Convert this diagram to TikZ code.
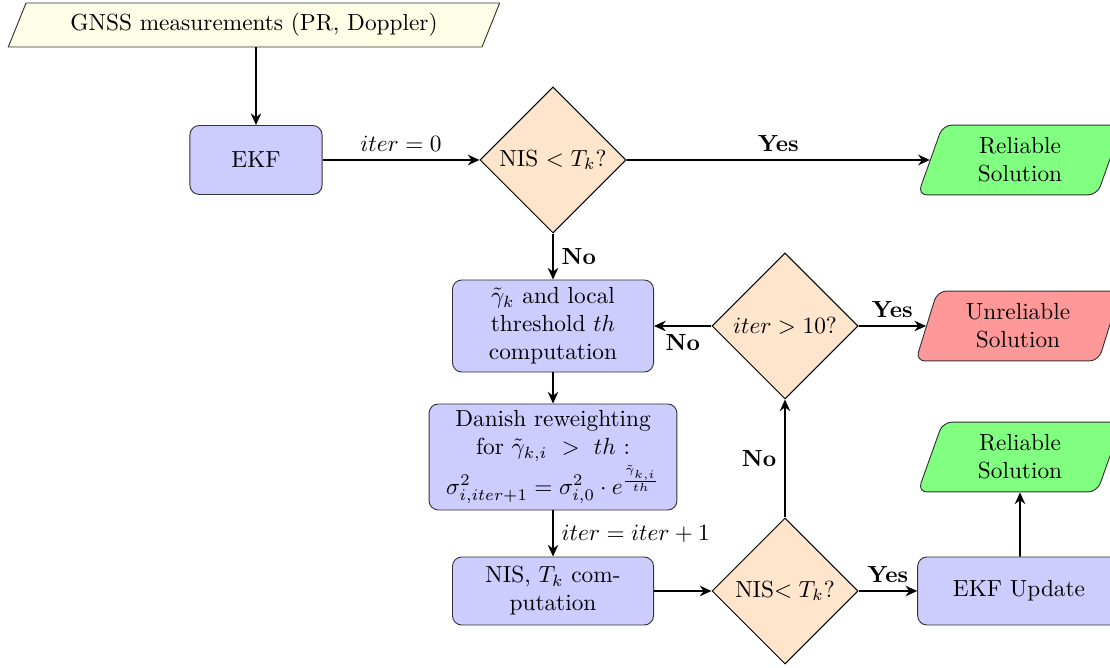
\documentclass[tikz,border=0pt]{standalone}
\usetikzlibrary{shapes.geometric,arrows.meta}
\begin{document}
\begin{tikzpicture}[x=0.4292pt,y=-0.4292pt,
  proc/.style={rectangle, rounded corners=4pt, draw=black!80, fill=blue!20, align=center, inner sep=2pt},
  dec/.style={diamond, draw=black, fill=orange!20, inner sep=0pt, minimum width=62.7pt, minimum height=62.7pt, align=center},
  io/.style={trapezium, trapezium left angle=75, trapezium right angle=105, trapezium stretches=true, draw=black!80, rounded corners=4pt, align=center, minimum width=88pt, minimum height=30pt},
  conn/.style={-{Stealth[length=5pt,width=4.5pt]}, thick}]
\useasboundingbox (0,0) rectangle (1110,668);
\clip (0,0) rectangle (1110,668);
\node[io, fill=yellow!10, rounded corners=0pt, trapezium left angle=69, trapezium right angle=111, minimum width=211pt, minimum height=18.9pt] (gnss) at (254,25) {GNSS measurements (PR, Doppler)};
\node[proc, minimum width=56.7pt, minimum height=29.6pt] (ekf) at (256,160) {EKF};
\node[dec] (d1) at (553,160) {NIS $<T_k$?};
\node[io, fill=green!50] (rel1) at (1020,160) {Reliable\\Solution};
\node[proc, minimum width=86.3pt, minimum height=39.5pt] (gam) at (553,326) {$\tilde{\gamma}_k$ and local\\threshold $th$\\computation};
\node[dec] (d2) at (785,326) {$iter>10$?};
\node[io, fill=red!40] (unrel) at (1018,326) {Unreliable\\Solution};
\node[proc, minimum width=106.4pt, minimum height=45.5pt] (dan) at (553,457) {Danish reweighting\\for $\tilde{\gamma}_{k,i}\ >\ th$ :\\[1pt]$\sigma^2_{i,iter+1}=\sigma^2_{i,0}\cdot e^{\frac{\tilde{\gamma}_{k,i}}{th}}$};
\node[proc, minimum width=86.3pt, minimum height=29.2pt] (nis) at (553,591) {NIS, $T_k$ com-\\putation};
\node[dec] (d3) at (785,591) {NIS$<T_k$?};
\node[proc, minimum width=87pt, minimum height=29.2pt] (upd) at (1019,591) {EKF Update};
\node[io, fill=green!50] (rel2) at (1020,457) {Reliable\\Solution};
\draw[conn] (ekf |- gnss.south) -- (ekf.north);
\draw[conn] (ekf) -- node[above]{$iter=0$} (d1);
\draw[conn] (d1) -- node[above]{\textbf{Yes}} (rel1);
\draw[conn] (d1) -- node[right]{\textbf{No}} (gam);
\draw[conn] (d2) -- node[below]{\textbf{No}} (gam);
\draw[conn] (d2) -- node[above]{\textbf{Yes}} (unrel);
\draw[conn] (gam) -- (dan);
\draw[conn] (dan) -- node[right]{$iter=iter+1$} (nis);
\draw[conn] (nis) -- (d3);
\draw[conn] (d3) -- node[left]{\textbf{No}} (d2);
\draw[conn] (d3) -- node[above]{\textbf{Yes}} (upd);
\draw[conn] (upd.north -| rel2) -- (rel2);
\end{tikzpicture}
\end{document}
